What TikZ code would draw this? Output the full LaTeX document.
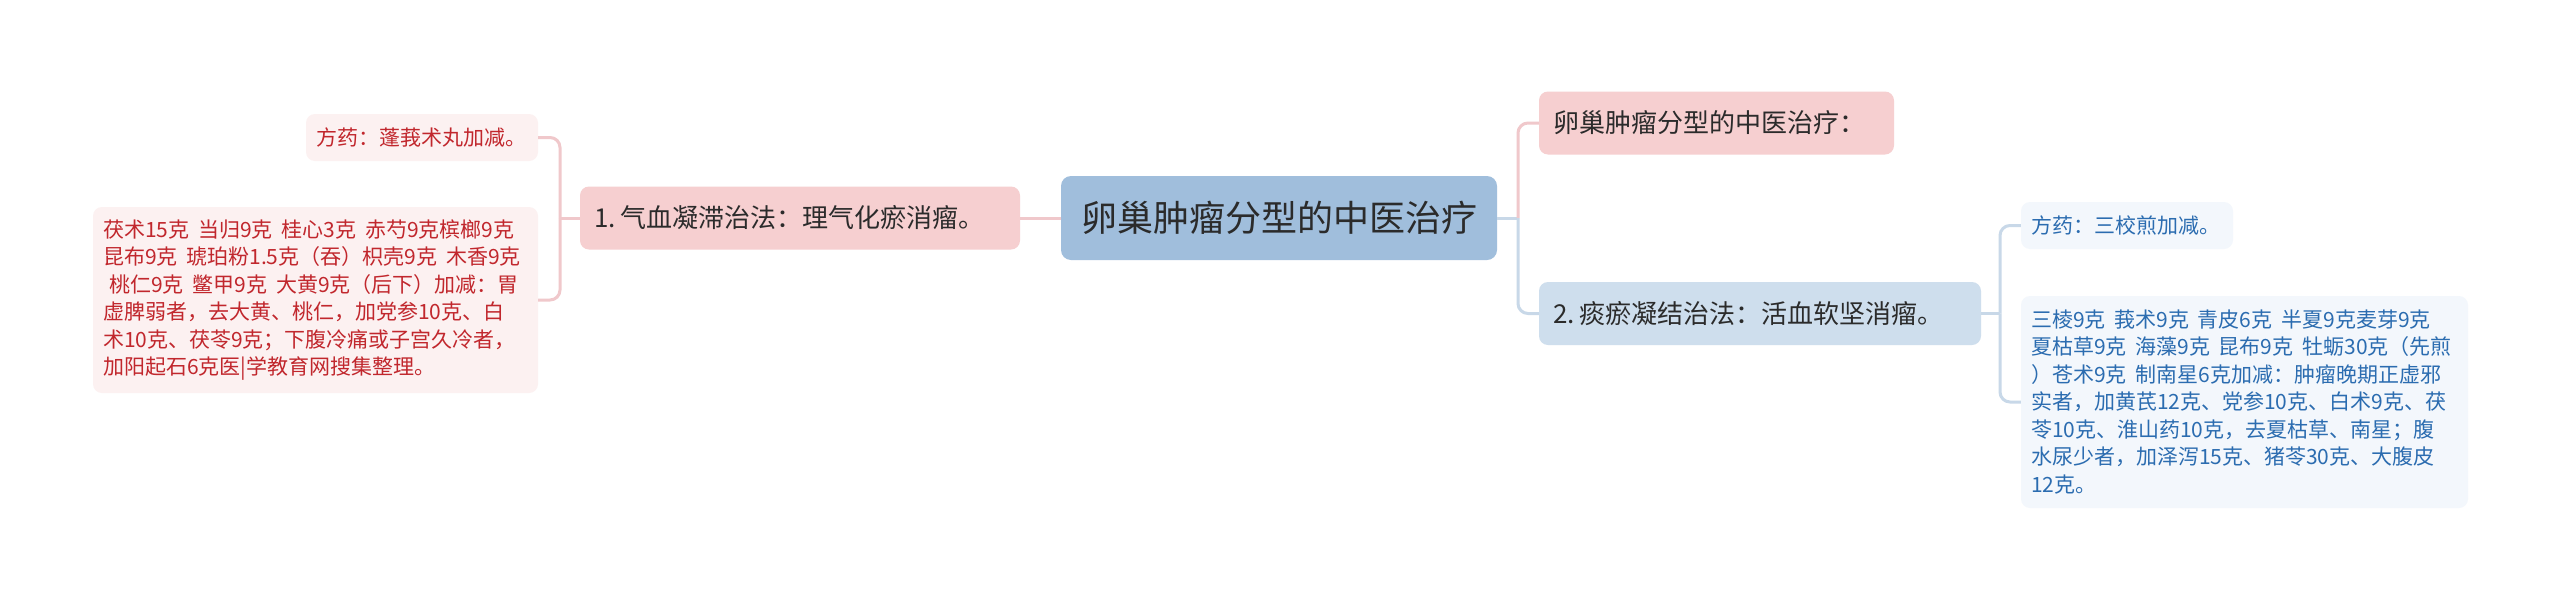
\documentclass[tikz,border=0pt]{standalone}
\usepackage{fontspec}
\setmainfont{Noto Sans CJK SC}
\definecolor{cMain}{HTML}{A0BEDC}
\definecolor{cPink}{HTML}{F6CFD0}
\definecolor{cBlue}{HTML}{CEDEED}
\definecolor{cLeafP}{HTML}{FCF1F1}
\definecolor{cLeafB}{HTML}{F3F7FC}
\definecolor{cLineP}{HTML}{F0C8CB}
\definecolor{cLineB}{HTML}{C8D8E8}
\definecolor{cText}{HTML}{2B2B2B}
\definecolor{cRed}{HTML}{C1272D}
\definecolor{cBlueT}{HTML}{2B6CB0}
\tikzset{
  mainbox/.style={fill=cMain, rounded corners=10pt, text=cText, inner sep=0pt,
    font=\fontsize{36}{42}\selectfont, minimum width=436pt, minimum height=84pt},
  branchbox/.style={rounded corners=9pt, text=cText, inner xsep=14pt, inner ysep=0pt,
    font=\fontsize{26}{30}\selectfont, align=left, text width=#1-28pt, minimum height=63pt},
  leafbox/.style={rounded corners=9pt, inner xsep=10pt, inner ysep=0pt,
    font=\fontsize{21}{27.5}\selectfont, align=left, text width=#1-20pt,
    execute at begin node={\spaceskip=8.8pt\relax}},
  lineP/.style={draw=cLineP, line width=3pt, rounded corners=10pt},
  lineB/.style={draw=cLineB, line width=3pt, rounded corners=10pt}
}
\begin{document}
\begin{tikzpicture}[x=1pt,y=1pt]
\useasboundingbox (0,0) rectangle (2560,-600);
\fill[white] (0,0) rectangle (2560,-600);

% nodes
\node[mainbox] (root) at (1279,-218) {卵巢肿瘤分型的中医治疗};
\node[branchbox=440pt, fill=cPink] (b1) at (800,-218) {1.\hspace{0.2em}气血凝滞治法：理气化瘀消瘤。};
\node[branchbox=355pt, fill=cPink] (b2) at (1716.5,-123) {卵巢肿瘤分型的中医治疗：};
\node[branchbox=442pt, fill=cBlue] (b3) at (1760,-313.5) {2.\hspace{0.2em}痰瘀凝结治法：活血软坚消瘤。};

\node[leafbox=232pt, fill=cLeafP, text=cRed, minimum height=47pt] (l1) at (422,-137.5) {方药：蓬莪术丸加减。};
\node[leafbox=445pt, fill=cLeafP, text=cRed, minimum height=186pt] (l2) at (315.5,-300)
 {茯术15克 当归9克 桂心3克 赤芍9克槟榔9克\\
  昆布9克 琥珀粉1.5克（吞）枳壳9克 木香9克\\
  \hspace*{0.3em}桃仁9克 鳖甲9克 大黄9克（后下）加减：胃\\
  虚脾弱者，去大黄、桃仁，加党参10克、白\\
  术10克、茯苓9克；下腹冷痛或子宫久冷者，\\
  加阳起石6克医|学教育网搜集整理。};

\node[leafbox=212pt, fill=cLeafB, text=cBlueT, minimum height=47pt] (r1) at (2127,-225.5) {方药：三校煎加减。};
\node[leafbox=447pt, fill=cLeafB, text=cBlueT, minimum height=212pt] (r2) at (2244.5,-402)
 {三棱9克 莪术9克 青皮6克 半夏9克麦芽9克\\
  夏枯草9克 海藻9克 昆布9克 牡蛎30克（先煎\\
  ）苍术9克 制南星6克加减：肿瘤晚期正虚邪\\
  实者，加黄芪12克、党参10克、白术9克、茯\\
  苓10克、淮山药10克，去夏枯草、南星；腹\\
  水尿少者，加泽泻15克、猪苓30克、大腹皮\\
  12克。};

% junctions
\coordinate (jl) at (560,-218);
\coordinate (jr) at (1518,-218);
\coordinate (jr2) at (2000,-313.5);

% connectors
\draw[lineP] (root.west) -- (b1.east);
\draw[lineP] (b1.west) -- (jl);
\draw[lineP] (l1.east) -| (jl);
\draw[lineP] (l2.east) -| (jl);
\draw[lineB] (root.east) -- (jr);
\draw[lineP] (jr) |- (b2.west);
\draw[lineB] (jr) |- (b3.west);
\draw[lineB] (b3.east) -- (jr2);
\draw[lineB] (jr2) |- (r1.west);
\draw[lineB] (jr2) |- (r2.west);
\end{tikzpicture}
\end{document}
